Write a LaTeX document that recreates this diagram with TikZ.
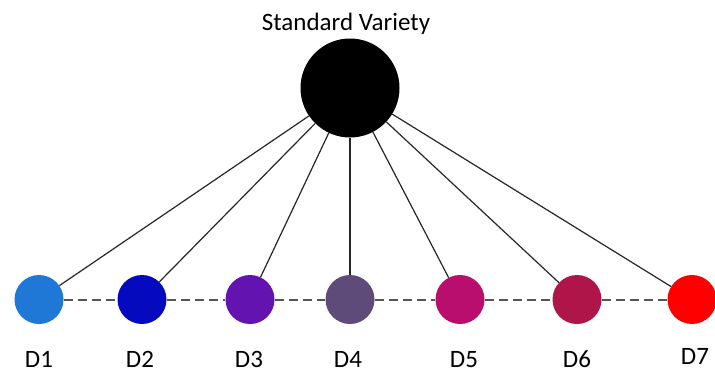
\documentclass[tikz,border=0pt]{standalone}
\usepackage{fontspec}
\setmainfont{Carlito}
\definecolor{cD1}{RGB}{31,119,214}
\definecolor{cD2}{RGB}{5,10,190}
\definecolor{cD3}{RGB}{98,19,176}
\definecolor{cD4}{RGB}{95,75,122}
\definecolor{cD5}{RGB}{186,14,110}
\definecolor{cD6}{RGB}{176,21,74}
\definecolor{cD7}{RGB}{255,0,0}
\definecolor{dashgray}{RGB}{85,85,85}
\tikzset{
  dialect/.style={circle, inner sep=0pt, minimum size=49pt, fill=#1},
  label text/.style={anchor=base, inner sep=0pt, font=\fontsize{25}{29}\selectfont},
  spoke/.style={draw=black!85, line width=1.2pt},
  chain/.style={draw=dashgray, line width=2pt, dash pattern=on 9pt off 5pt}
}
\begin{document}
\begin{tikzpicture}[x=1pt,y=-1pt]
  \useasboundingbox (0,0) rectangle (715,372);
  % central node
  \node[circle, inner sep=0pt, minimum size=99pt, fill=black] (sv) at (350,88) {};
  \node[label text] (svl) at (346,30) {Standard Variety};
  % dialect nodes
  \node[dialect=cD1] (d1) at (39,299.5) {};
  \node[dialect=cD2] (d2) at (142,299.5) {};
  \node[dialect=cD3] (d3) at (250,299.5) {};
  \node[dialect=cD4] (d4) at (350,299.5) {};
  \node[dialect=cD5] (d5) at (460,299.5) {};
  \node[dialect=cD6] (d6) at (577,299.5) {};
  \node[dialect=cD7] (d7) at (692,299.5) {};
  % labels
  \node[label text] (l1) at (39,367) {D1};
  \node[label text] (l2) at (140,367) {D2};
  \node[label text] (l3) at (249,367) {D3};
  \node[label text] (l4) at (348,367) {D4};
  \node[label text] (l5) at (464,367) {D5};
  \node[label text] (l6) at (577,367) {D6};
  \node[label text] (l7) at (695,364) {D7};
  % dashed chain between neighbouring dialects
  \foreach \a/\b in {d1/d2,d2/d3,d3/d4,d4/d5,d5/d6,d6/d7}
    \draw[chain] (\a) -- (\b);
  % spokes from the standard variety
  \foreach \d in {d1,d2,d3,d4,d5,d6,d7}
    \draw[spoke] (sv) -- (\d);
\end{tikzpicture}
\end{document}
